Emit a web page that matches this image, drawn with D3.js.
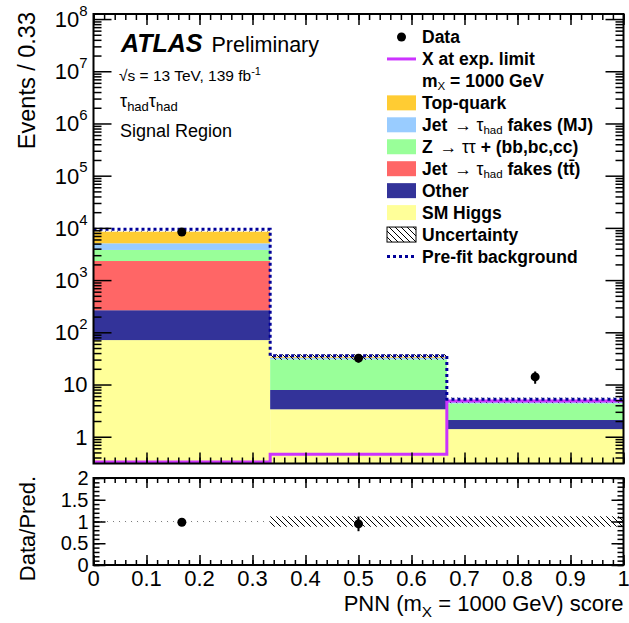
<!DOCTYPE html>
<html>
<head>
<meta charset="utf-8">
<script src="https://cdn.jsdelivr.net/npm/d3@7"></script>
<style>
  body { margin: 0; background: #fff; }
  svg text { font-family: "Liberation Sans", Arial, Helvetica, sans-serif; }
</style>
</head>
<body>
<div id="chart"></div>
<script>
// bins of the PNN score
const binEdges = [0, 1 / 3, 2 / 3, 1];

// stacked backgrounds, bottom to top
const smHiggs = [71, 3.35, 1.40];
const other = [194, 4.5, 0.69];
const fakesTT = [2055, 0, 0];
const zTauTau = [1460, 22.5, 2.26];
const fakesMJ = [1290, 2.2, 0.45];
const topQuark = [3380, 1.3, 0.2];

const dataVals = [8300, 32, 14];
const dataErr = [91, 5.7, 3.7];
const signal = [0.05, 0.46, 4.83];
const prefit = [9400, 35.7, 5.2];
const relUnc = [0.01, 0.12, 0.12];

const yTickDecades = [1, 10, 1e2, 1e3, 1e4, 1e5, 1e6, 1e7, 1e8];
const xTickLabels = ["0", "0.1", "0.2", "0.3", "0.4", "0.5", "0.6", "0.7", "0.8", "0.9", "1"];
const ratioTicks = [0, 0.5, 1, 1.5, 2];

const stack = [
  { name: "SM Higgs", vals: smHiggs, color: "#ffff99" },
  { name: "Other", vals: other, color: "#333399" },
  { name: "fakes tt", vals: fakesTT, color: "#ff6666" },
  { name: "Z", vals: zTauTau, color: "#99ff99" },
  { name: "MJ", vals: fakesMJ, color: "#99ccff" },
  { name: "Top-quark", vals: topQuark, color: "#ffcc33" }
];

const W = 629, H = 623;
const L = 93.5, R = 623.5, T = 14, B = 463.5;
const RT = 478, RB = 565;

const svg = d3.select("#chart").append("svg")
  .attr("width", W).attr("height", H);

const defs = svg.append("defs");
const pat = defs.append("pattern")
  .attr("id", "hatch").attr("patternUnits", "userSpaceOnUse")
  .attr("width", 6).attr("height", 6);
pat.append("path")
  .attr("d", "M0,0L6,6M-1,5L1,7M5,-1L7,1")
  .attr("stroke", "#000").attr("stroke-width", 1);
defs.append("clipPath").attr("id", "clipMain")
  .append("rect").attr("x", L).attr("y", T).attr("width", R - L).attr("height", B - T);
defs.append("clipPath").attr("id", "clipRatio")
  .append("rect").attr("x", L).attr("y", RT).attr("width", R - L).attr("height", RB - RT);

const x = d3.scaleLinear().domain([0, 1]).range([L, R]);
const y = d3.scaleLog().domain([0.307, 1.25e8]).range([B, T]);
const yr = d3.scaleLinear().domain([0, 2]).range([RB, RT]);
const ymin = y.domain()[0];
const yc = v => y(Math.max(v, ymin * 0.5));

// cumulative stack
const bins = d3.range(3);
const total = bins.map(i => d3.sum(stack, s => s.vals[i]));

const main = svg.append("g").attr("clip-path", "url(#clipMain)");

bins.forEach(i => {
  let lo = 0;
  stack.forEach(s => {
    const hi = lo + s.vals[i];
    if (s.vals[i] > 0) {
      main.append("rect")
        .attr("x", x(binEdges[i]))
        .attr("width", x(binEdges[i + 1]) - x(binEdges[i]))
        .attr("y", yc(hi))
        .attr("height", yc(lo) - yc(hi))
        .attr("fill", s.color);
    }
    lo = hi;
  });
});

// uncertainty band
bins.forEach(i => {
  main.append("rect")
    .attr("x", x(binEdges[i]))
    .attr("width", x(binEdges[i + 1]) - x(binEdges[i]))
    .attr("y", y(total[i] * (1 + relUnc[i])))
    .attr("height", y(total[i] * (1 - relUnc[i])) - y(total[i] * (1 + relUnc[i])))
    .attr("fill", "url(#hatch)");
});

// step outline helper
function steps(vals, scaleY) {
  const pts = [];
  bins.forEach(i => {
    pts.push([x(binEdges[i]), scaleY(vals[i])]);
    pts.push([x(binEdges[i + 1]), scaleY(vals[i])]);
  });
  return d3.line()(pts);
}

main.append("path")
  .attr("d", steps(signal, v => Math.min(yc(v), B - 1.5)))
  .attr("fill", "none").attr("stroke", "#cc33ff").attr("stroke-width", 3);

main.append("path")
  .attr("d", steps(prefit, yc))
  .attr("fill", "none").attr("stroke", "#000099")
  .attr("stroke-width", 3).attr("stroke-dasharray", "3,3");

// data points
bins.forEach(i => {
  const cx = x((binEdges[i] + binEdges[i + 1]) / 2);
  main.append("line")
    .attr("x1", cx).attr("x2", cx)
    .attr("y1", yc(dataVals[i] - dataErr[i])).attr("y2", yc(dataVals[i] + dataErr[i]))
    .attr("stroke", "#000").attr("stroke-width", 2);
  main.append("circle")
    .attr("cx", cx).attr("cy", y(dataVals[i])).attr("r", 4.5).attr("fill", "#000");
});

// ratio panel
const ratio = svg.append("g").attr("clip-path", "url(#clipRatio)");
bins.forEach(i => {
  const top = yr(1 + relUnc[i]);
  ratio.append("rect")
    .attr("x", x(binEdges[i]))
    .attr("width", x(binEdges[i + 1]) - x(binEdges[i]))
    .attr("y", top)
    .attr("height", Math.max(yr(1 - relUnc[i]) - top, 1))
    .attr("fill", "url(#hatch)")
    .attr("opacity", relUnc[i] < 0.05 ? 0.55 : 1);
});
bins.forEach(i => {
  const r = dataVals[i] / total[i];
  const re = dataErr[i] / total[i];
  if (r > 2) return;
  const cx = x((binEdges[i] + binEdges[i + 1]) / 2);
  ratio.append("line")
    .attr("x1", cx).attr("x2", cx)
    .attr("y1", yr(r - re)).attr("y2", yr(r + re))
    .attr("stroke", "#000").attr("stroke-width", 2);
  ratio.append("circle")
    .attr("cx", cx).attr("cy", yr(r)).attr("r", 4.5).attr("fill", "#000");
});

// ticks
function tickGroup(tx, ty, axis) {
  const g = svg.append("g").attr("transform", `translate(${tx},${ty})`).call(axis);
  g.select(".domain").remove();
  g.selectAll("text").remove();
  g.selectAll("line").attr("stroke", "#000").attr("stroke-width", 1.5);
  return g;
}

const xMajor = d3.range(0, 1.0001, 0.1);
const xMinor = d3.range(0, 1.0001, 0.02);
const yMinor = [];
[0.1, 1, 10, 1e2, 1e3, 1e4, 1e5, 1e6, 1e7].forEach(d => {
  for (let k = 2; k <= 9; k++) {
    const v = d * k;
    if (v >= ymin && v <= y.domain()[1]) yMinor.push(v);
  }
});

tickGroup(0, B, d3.axisBottom(x).tickValues(xMajor).tickSize(-11));
tickGroup(0, B, d3.axisBottom(x).tickValues(xMinor).tickSize(-6));
tickGroup(0, T, d3.axisTop(x).tickValues(xMajor).tickSize(-11));
tickGroup(0, T, d3.axisTop(x).tickValues(xMinor).tickSize(-6));
tickGroup(L, 0, d3.axisLeft(y).tickValues(yTickDecades).tickSize(-18));
tickGroup(L, 0, d3.axisLeft(y).tickValues(yMinor).tickSize(-8));
tickGroup(R, 0, d3.axisRight(y).tickValues(yTickDecades).tickSize(-18));
tickGroup(R, 0, d3.axisRight(y).tickValues(yMinor).tickSize(-8));

tickGroup(0, RB, d3.axisBottom(x).tickValues(xMajor).tickSize(-10));
tickGroup(0, RB, d3.axisBottom(x).tickValues(xMinor).tickSize(-5));
tickGroup(0, RT, d3.axisTop(x).tickValues(xMajor).tickSize(-10));
tickGroup(0, RT, d3.axisTop(x).tickValues(xMinor).tickSize(-5));
tickGroup(L, 0, d3.axisLeft(yr).tickValues(ratioTicks).tickSize(-12));
tickGroup(L, 0, d3.axisLeft(yr).tickValues(d3.range(0, 2.001, 0.1)).tickSize(-6));
tickGroup(R, 0, d3.axisRight(yr).tickValues(ratioTicks).tickSize(-12));
tickGroup(R, 0, d3.axisRight(yr).tickValues(d3.range(0, 2.001, 0.1)).tickSize(-6));

// frames
svg.append("rect").attr("x", L).attr("y", T).attr("width", R - L).attr("height", B - T)
  .attr("fill", "none").attr("stroke", "#000").attr("stroke-width", 2);
svg.append("rect").attr("x", L).attr("y", RT).attr("width", R - L).attr("height", RB - RT)
  .attr("fill", "none").attr("stroke", "#000").attr("stroke-width", 2);

// tick labels
const fs = 22;
yTickDecades.forEach(v => {
  const t = svg.append("text")
    .attr("x", L - 6).attr("y", y(v)).attr("dy", "0.36em")
    .attr("text-anchor", "end").attr("font-size", fs);
  const n = Math.round(Math.log10(v));
  if (n < 2) t.text(v);
  else {
    t.append("tspan").text("10");
    t.append("tspan").attr("font-size", fs * 0.68).attr("dy", "-0.75em").text(n);
  }
});
ratioTicks.forEach(v => {
  svg.append("text")
    .attr("x", L - 5).attr("y", yr(v)).attr("dy", "0.36em")
    .attr("text-anchor", "end").attr("font-size", 20)
    .text(v);
});
xTickLabels.forEach((s, i) => {
  svg.append("text")
    .attr("x", x(xMajor[i])).attr("y", 586)
    .attr("text-anchor", "middle").attr("font-size", fs)
    .text(s);
});

// axis titles
svg.append("text")
  .attr("transform", "translate(35,12) rotate(-90)")
  .attr("text-anchor", "end").attr("font-size", 23.5)
  .text("Events / 0.33");
svg.append("text")
  .attr("transform", "translate(35,476) rotate(-90)")
  .attr("text-anchor", "end").attr("font-size", fs)
  .text("Data/Pred.");
const xt = svg.append("text")
  .attr("x", R).attr("y", 611).attr("text-anchor", "end").attr("font-size", fs);
xt.append("tspan").text("PNN (m");
xt.append("tspan").attr("font-size", fs * 0.7).attr("dy", 6).text("X");
xt.append("tspan").attr("dy", -6).text(" = 1000 GeV) score");

// ATLAS labels
const atl = svg.append("text").attr("x", 121).attr("y", 52);
atl.append("tspan").attr("font-size", 25).attr("font-weight", "bold").attr("font-style", "italic").text("ATLAS");
atl.append("tspan").attr("font-size", 21.5).attr("dx", 9).text("Preliminary");

const lum = svg.append("text").attr("x", 119).attr("y", 81).attr("font-size", 15.5);
lum.append("tspan").text("√s = 13 TeV, 139 fb");
lum.append("tspan").attr("font-size", 11).attr("dy", -6).text("-1");

const tt = svg.append("text").attr("x", 120).attr("y", 107).attr("font-size", 18);
tt.append("tspan").text("τ");
tt.append("tspan").attr("font-size", 13).attr("dy", 4).text("had");
tt.append("tspan").attr("dy", -4).text("τ");
tt.append("tspan").attr("font-size", 13).attr("dy", 4).text("had");

svg.append("text").attr("x", 120).attr("y", 137).attr("font-size", 18).text("Signal Region");

// legend
const legendRows = [
  { kind: "data", parts: [{ t: "Data" }] },
  { kind: "line", color: "#cc33ff", parts: [{ t: "X at exp. limit" }] },
  { kind: "none", parts: [{ t: "m" }, { t: "X", sub: true }, { t: " = 1000 GeV" }] },
  { kind: "box", color: "#ffcc33", parts: [{ t: "Top-quark" }] },
  { kind: "box", color: "#99ccff", parts: [{ t: "Jet " }, { t: "→ τ", n: true }, { t: "had", sub: true }, { t: " fakes (MJ)" }] },
  { kind: "box", color: "#99ff99", parts: [{ t: "Z " }, { t: "→ ττ", n: true }, { t: " + (bb,bc,cc)" }] },
  { kind: "box", color: "#ff6666", parts: [{ t: "Jet " }, { t: "→ τ", n: true }, { t: "had", sub: true }, { t: " fakes (tt\u0304)" }] },
  { kind: "box", color: "#333399", parts: [{ t: "Other" }] },
  { kind: "box", color: "#ffff99", parts: [{ t: "SM Higgs" }] },
  { kind: "hatch", parts: [{ t: "Uncertainty" }] },
  { kind: "dots", color: "#000099", parts: [{ t: "Pre-fit background" }] }
];

const lg = svg.append("g");
legendRows.forEach((row, i) => {
  const cy = 37 + 21.95 * i;
  if (row.kind === "data") {
    lg.append("circle").attr("cx", 401.5).attr("cy", cy).attr("r", 4.5).attr("fill", "#000");
  } else if (row.kind === "line" || row.kind === "dots") {
    lg.append("line").attr("x1", 387).attr("x2", 416).attr("y1", cy).attr("y2", cy)
      .attr("stroke", row.color).attr("stroke-width", 3)
      .attr("stroke-dasharray", row.kind === "dots" ? "3,3" : null);
  } else if (row.kind === "box") {
    lg.append("rect").attr("x", 387).attr("y", cy - 7.5).attr("width", 29).attr("height", 15)
      .attr("fill", row.color);
  } else if (row.kind === "hatch") {
    lg.append("rect").attr("x", 387).attr("y", cy - 7.5).attr("width", 29).attr("height", 15)
      .attr("fill", "url(#hatch)").attr("stroke", "#000").attr("stroke-width", 1);
  }
  const t = lg.append("text").attr("x", 422).attr("y", cy + 6)
    .attr("font-size", 17.5).attr("font-weight", "bold");
  let shift = 0;
  row.parts.forEach(p => {
    const s = t.append("tspan").text(p.t);
    if (p.n) s.attr("font-weight", "normal").attr("dx", 2);
    if (p.sub) {
      s.attr("font-size", 11.5).attr("font-weight", "normal").attr("dy", 3.5);
      shift = 3.5;
    } else if (shift) {
      s.attr("dy", -shift);
      shift = 0;
    }
  });
});
</script>
</body>
</html>
